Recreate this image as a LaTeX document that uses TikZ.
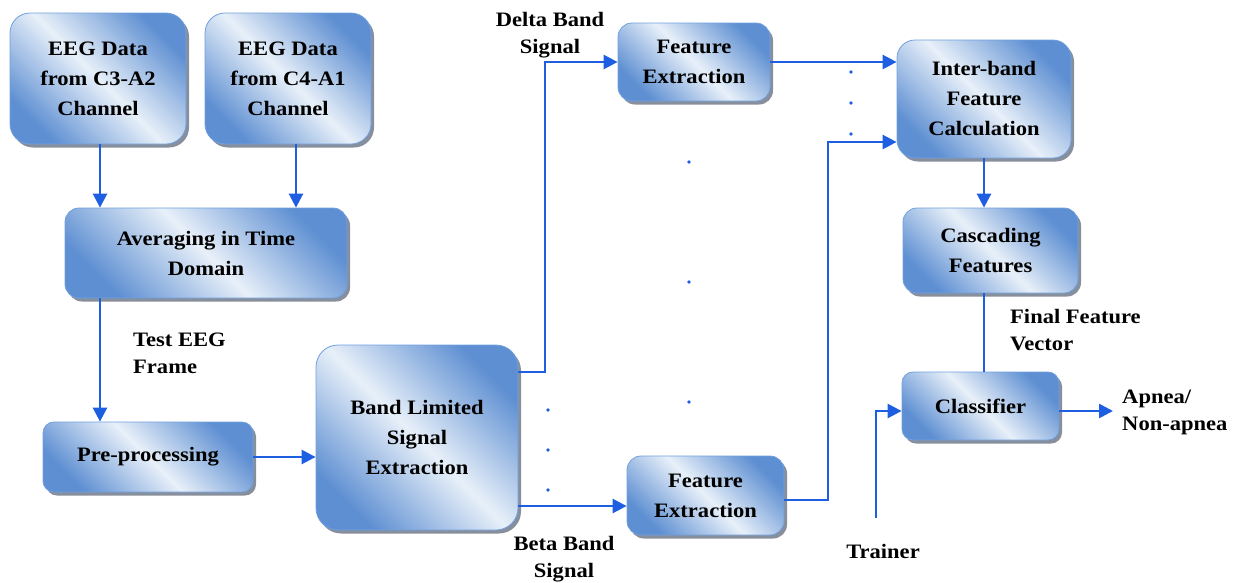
\documentclass[tikz,border=0pt]{standalone}
\usepackage{fontspec}
\setmainfont{Liberation Serif}[FakeStretch=1.1]
\usetikzlibrary{arrows.meta,shadows,calc}

\definecolor{bdark}{RGB}{94,143,210}
\definecolor{blight}{RGB}{232,240,249}
\definecolor{bedge}{RGB}{112,160,222}
\definecolor{shade}{RGB}{84,94,114}
\definecolor{flow}{RGB}{30,95,225}

\tikzset{
  blk/.style={draw=bedge, line width=0.8pt, rounded corners=#1,
    top color=bdark, bottom color=bdark, middle color=blight, shading angle=-45,
    drop shadow={shadow xshift=3pt, shadow yshift=-3.5pt, fill=shade, opacity=0.7},
    align=center, inner sep=0pt,
    font=\bfseries\fontsize{20.5}{30}\selectfont},
  blk/.default=14pt,
  lbl/.style={align=left, inner sep=0pt, font=\bfseries\fontsize{20.5}{27}\selectfont},
  arr/.style={draw=flow, line width=2.6pt, -{Triangle[length=14pt,width=14pt]}},
  wire/.style={draw=flow, line width=2.6pt},
  dotmark/.style={fill=flow, circle, inner sep=0pt, minimum size=3.6pt}
}

\begin{document}
\begin{tikzpicture}[x=1pt, y=-1pt]
\useasboundingbox (0,0) rectangle (1238,582);

% processing blocks
\node[blk=20pt, minimum width=176pt, minimum height=131pt] (c3) at (98,78.5) {EEG Data\\from C3-A2\\Channel};
\node[blk=20pt, minimum width=166pt, minimum height=131pt] (c4) at (288,78.5) {EEG Data\\from C4-A1\\Channel};
\node[blk, minimum width=282pt, minimum height=90pt] (avg) at (206,253) {Averaging in Time\\Domain};
\node[blk=11pt, minimum width=210pt, minimum height=70pt] (pre) at (148,457) {Pre-processing};
\node[blk=22pt, minimum width=202pt, minimum height=185pt] (band) at (417,437.5) {Band Limited\\Signal\\Extraction};
\node[blk, minimum width=152pt, minimum height=78pt] (fe1) at (694,62) {Feature\\Extraction};
\node[blk, minimum width=157pt, minimum height=79pt] (fe2) at (705.5,495.5) {Feature\\Extraction};
\node[blk=18pt, minimum width=174pt, minimum height=118pt] (inter) at (984,99) {Inter-band\\Feature\\Calculation};
\node[blk, minimum width=175pt, minimum height=85pt] (casc) at (990.5,250.5) {Cascading\\Features};
\node[blk=11pt, minimum width=157pt, minimum height=68pt] (clf) at (980.5,406) {Classifier};

% free labels (base anchor = baseline of the last line)
\node[lbl, align=center, anchor=base] (delta) at (550,53) {Delta Band\\Signal};
\node[lbl, anchor=base west] (test) at (133,373) {Test EEG\\Frame};
\node[lbl, align=center, anchor=base] (beta) at (564,577) {Beta Band\\Signal};
\node[lbl, anchor=base west] (ffv) at (1010,350) {Final Feature\\Vector};
\node[lbl, anchor=base] (trainer) at (883,558) {Trainer};
\node[lbl, anchor=base west] (out) at (1122,430) {Apnea/\\Non-apnea};

% routing points
\coordinate (xa) at (100,0);
\coordinate (xb) at (296,0);
\coordinate (k1) at (545,62);
\coordinate (k2) at (828,142);
\coordinate (tr) at (876,518);
\coordinate (xo) at (1113,0);

% connectors
\draw[arr] (c3.south -| xa) -- (avg.north -| xa);
\draw[arr] (c4.south -| xb) -- (avg.north -| xb);
\draw[arr] (avg.south -| xa) -- (pre.north -| xa);
\draw[arr] (pre.east) -- (pre.east -| band.west);
\draw[arr] ([yshift=65.5pt]band.east) -| (k1) -- (fe1.west);
\draw[arr] ([yshift=-68.5pt]band.east) -- ([yshift=-68.5pt]band.east -| fe2.west);
\draw[arr] (fe1.east) -- (fe1.east -| inter.west);
\draw[arr] ([yshift=-4.5pt]fe2.east) -| (k2) -- (k2 -| inter.west);
\draw[arr] (inter.south) -- (inter.south |- casc.north);
\draw[wire] (inter.south |- casc.south) -- (inter.south |- clf.north);
\draw[arr] (tr) |- ([yshift=-5pt]clf.west);
\draw[arr] ([yshift=-5pt]clf.east) -- ([yshift=-5pt]clf.east -| xo);

% ellipsis dots between the band branches
\foreach \p/\q in {548/410, 548/450, 548/490, 689/162, 689/282, 689/402, 851/72, 851/103, 851/134}
  \node[dotmark] at (\p,\q) {};
\end{tikzpicture}
\end{document}
